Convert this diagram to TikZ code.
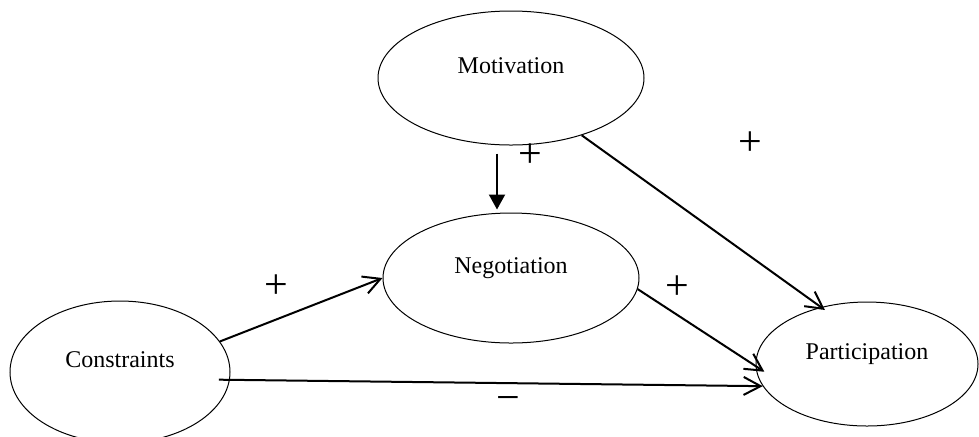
\documentclass[tikz,border=0pt]{standalone}
\usepackage{fontspec}
\setmainfont{Liberation Serif}
\usetikzlibrary{shapes.geometric,arrows.meta}
\tikzset{%
  ovalbox/.style   = { ellipse, draw = black, line width = 0.5pt, inner sep = 0pt,
    font = \fontsize{12}{14}\selectfont, text height = 8pt, text depth = 12.5pt },
  openarrow/.style = { -{Straight Barb[length=8.5pt, width=9pt]}, line width = 1pt },
  headarrow/.style = { -{Triangle[length=7.5pt, width=8pt]}, line width = 1pt },
  sign/.style      = { anchor = base, inner sep = 0pt, font = \fontsize{21}{24}\selectfont },
}

\begin{document}
\begin{tikzpicture}[x=0.5pt, y=-0.5pt]
    \useasboundingbox (0,0) rectangle (979,436);
    % nodes ----------------------------------------------------------------------------------------
    \node(mot) [ovalbox, minimum width = 133pt, minimum height = 67pt] at (511,78)  {Motivation};
    \node(neg) [ovalbox, minimum width = 128pt, minimum height = 65pt] at (511,278) {Negotiation};
    \node(con) [ovalbox, minimum width = 110pt, minimum height = 71pt] at (120,372) {Constraints};
    \node(par) [ovalbox, minimum width = 111pt, minimum height = 62pt] at (867,364) {Participation};
    % signs (no ovalbox)
    \node(s1) [sign] at (276,298.5) {+};
    \node(s2) [sign] at (530,167.5) {+};
    \node(s3) [sign] at (750,155.5) {+};
    \node(s4) [sign] at (677,299.5) {+};
    \node(s5) [sign] at (508,411.5) {−};
    % arrows ---------------------------------------------------------------------------------------
    \draw[headarrow, shorten <= 4pt, shorten >= 1.5pt] ([xshift=-7pt]mot.south) -- ([xshift=-7pt]neg.north);
    \draw[openarrow] (con.17) -- (neg.west);
    \draw[openarrow] (neg.-5) -- ([xshift=4pt]par.184);
    \draw[openarrow] ([xshift=-5.5pt]con.-4) -- (par.192);
    \draw[openarrow, shorten >= -2.5pt] (mot.-39) -- (par.129);
\end{tikzpicture}
\end{document}
